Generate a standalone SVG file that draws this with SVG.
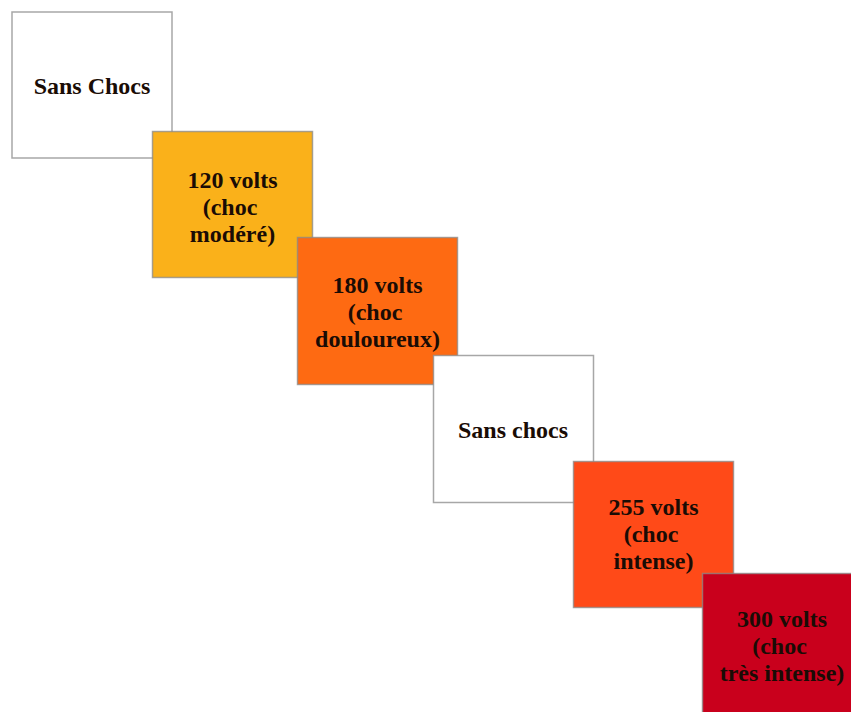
<svg xmlns="http://www.w3.org/2000/svg" width="851" height="712" viewBox="0 0 851 712">
<style>
.box{stroke:#8a8a8a;stroke-opacity:0.75;stroke-width:1.5}
.t{font-family:"Liberation Serif","Times New Roman",serif;font-weight:bold;font-size:24px;text-anchor:middle;fill:#1a0c05}
</style>
<rect width="851" height="712" fill="#ffffff"/>
<g id="connectors"/>
<g id="node1">
<rect class="box" x="12" y="12" width="160" height="146" fill="#ffffff"/>
<text class="t" x="92" y="94">Sans Chocs</text>
</g>
<g id="node2">
<rect class="box" x="152.5" y="131.5" width="160" height="146" fill="#FAB11A"/>
<text class="t" x="232.5" y="188">120 volts</text>
<text class="t" x="230" y="215">(choc</text>
<text class="t" x="232.5" y="242">modéré)</text>
</g>
<g id="node3">
<rect class="box" x="297.5" y="237.5" width="160" height="147" fill="#FE6A12"/>
<text class="t" x="377.5" y="293">180 volts</text>
<text class="t" x="375" y="320">(choc</text>
<text class="t" x="377.5" y="347">douloureux)</text>
</g>
<g id="node4">
<rect class="box" x="433.5" y="355.5" width="160" height="147" fill="#ffffff"/>
<text class="t" x="513" y="438">Sans chocs</text>
</g>
<g id="node5">
<rect class="box" x="573.5" y="461.5" width="160" height="146" fill="#FF4A18"/>
<text class="t" x="653.5" y="515">255 volts</text>
<text class="t" x="651" y="542">(choc</text>
<text class="t" x="653.5" y="569">intense)</text>
</g>
<g id="node6">
<rect class="box" x="702.5" y="573.5" width="160" height="146" fill="#C9001C"/>
<text class="t" x="782" y="627">300 volts</text>
<text class="t" x="779.5" y="654">(choc</text>
<text class="t" x="782" y="681">très intense)</text>
</g>
</svg>
